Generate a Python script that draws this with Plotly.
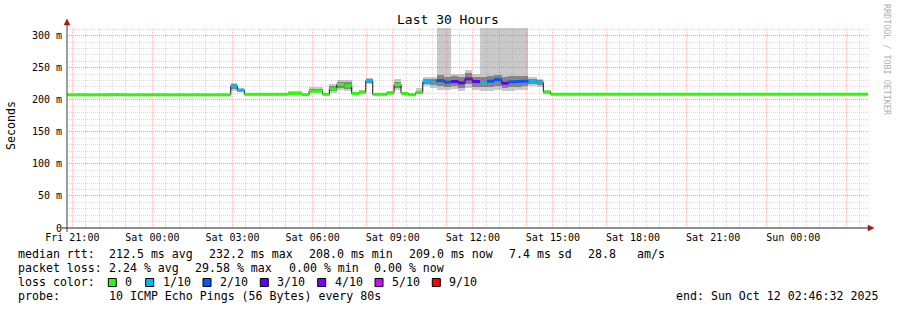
import plotly.graph_objects as go

# ---------------- data (time in hours relative to Fri 21:00) ----------------
window_start = -0.2
window_end = 29.8
seg_start = [-0.200, 1.412, 1.899, 5.933, 6.180, 6.442, 6.993, 8.079, 8.603, 8.865,
             9.378, 9.625, 9.903, 10.187, 10.464, 10.738, 10.989, 11.251, 11.775, 12.049,
             12.311, 12.584, 12.861, 13.124, 13.397, 13.648, 13.933, 14.184, 14.457, 14.708,
             14.981, 15.270, 15.543, 15.794, 16.082, 16.330, 16.581, 16.831, 17.079, 17.393,
             17.640, 17.918]

median_ms = [208.0, 208.0, 208.0, 221.6, 215.0, 208.5, 208.5, 210.0, 208.0, 213.5,
             208.5, 217.0, 224.0, 221.7, 210.0, 212.0, 229.5, 208.5, 210.8, 224.0,
             210.0, 208.0, 211.3, 228.5, 227.0, 230.0, 227.4, 228.5, 226.4, 232.6,
             228.5, 227.0, 229.0, 231.5, 225.8, 228.0, 228.5, 229.0, 229.0, 227.4,
             212.0, 208.5]
loss = [0, 0, 0, 1, 1, 0, 0, 0, 0, 0,
        0, 0, 0, 0, 0, 0, 1, 0, 0, 0,
        0, 0, 0, 1, 1, 2, 2, 3, 3, 4,
        3, 1, 2, 2, 3, 2, 2, 2, 1, 1,
        0, 0]
smoke_min = [208, 207.5, 208, 214, 212, 208, 207.5, 208, 207.5, 210,
             208, 211, 215, 213, 208, 209, 224, 208, 208, 215,
             208, 207.5, 209, 222, 219, 215, 215, 217, 213, 219,
             215, 214, 214, 215, 213, 214, 215, 216, 221, 220,
             209, 208]
smoke_max = [208, 211, 208, 226, 218, 209, 211, 213, 209, 220,
             209, 225, 231, 231, 212, 216, 234, 209, 213, 232,
             212, 209, 218, 235, 236, 330, 330, 241, 241, 247,
             240, 330, 330, 330, 330, 330, 330, 330, 235, 233,
             215, 209]
core_lo = [208, 208, 208, 217.5, 213, 208, 208, 209, 208, 211.5,
           208, 214, 219, 217, 208.5, 210, 226, 208, 209, 219,
           209, 208, 210, 225, 223, 221, 220, 221, 218, 224,
           220, 220, 220, 221, 219, 220, 220, 221, 224, 223,
           210, 208]
core_hi = [208, 208, 208, 224, 216, 208, 209.5, 211, 208, 217,
           209, 221, 228, 227, 211, 214, 232, 209, 212, 228,
           211, 208.5, 214, 232, 232, 238, 236, 237, 236, 242,
           236, 236, 237, 238, 236, 237, 237, 237, 233, 231,
           214, 209]

loss_keys = [0, 1, 2, 3, 4, 5, 9]
loss_labels = ["0", "1/10", "2/10", "3/10", "4/10", "5/10", "9/10"]
loss_colors = ["#26ff00", "#00b8ff", "#0059ff", "#5e00ff", "#7e00ff", "#dd00ff", "#ff0000"]

tick_hours = [0, 3, 6, 9, 12, 15, 18, 21, 24, 27]
tick_labels = ["Fri 21:00", "Sat 00:00", "Sat 03:00", "Sat 06:00", "Sat 09:00",
               "Sat 12:00", "Sat 15:00", "Sat 18:00", "Sat 21:00", "Sun 00:00"]
y_ticks = [0, 50, 100, 150, 200, 250, 300]
y_labels = ["0", "50 m", "100 m", "150 m", "200 m", "250 m", "300 m"]

# ---------------- geometry ----------------
W, H = 897, 310
L, R, T, B = 67, 868, 28, 228
Y_MAX = 312

def px(xp):
    return (xp - L) / (R - L)

def py(yp):
    return (B - yp) / (B - T)

seg_end = seg_start[1:] + [window_end]
centers = [(a + b) / 2 for a, b in zip(seg_start, seg_end)]
widths = [b - a for a, b in zip(seg_start, seg_end)]

fig = go.Figure()
fig.add_trace(go.Bar(x=centers, width=widths, base=smoke_min,
                     y=[h - l for l, h in zip(smoke_min, smoke_max)],
                     marker=dict(color="rgba(120,120,120,0.40)", line=dict(width=0)),
                     hoverinfo="skip"))
fig.add_trace(go.Bar(x=centers, width=widths, base=core_lo,
                     y=[h - l for l, h in zip(core_lo, core_hi)],
                     marker=dict(color="rgba(50,50,50,0.45)", line=dict(width=0)),
                     hoverinfo="skip"))
fig.add_trace(go.Scatter(x=seg_start + [window_end], y=median_ms + [median_ms[-1]],
                         mode="lines", line=dict(shape="hv", color="#111111", width=1),
                         hoverinfo="skip"))
# coloured median segments, one trace per loss class
for key, col in zip(loss_keys, loss_colors):
    xs, ys = [], []
    for a, b, m, k in zip(seg_start, seg_end, median_ms, loss):
        if k == key:
            xs += [a, b, None]
            ys += [m, m, None]
    if xs:
        fig.add_trace(go.Scatter(x=xs, y=ys, mode="lines",
                                 line=dict(color=col, width=3), hoverinfo="skip"))

all_hours = list(range(0, 30))
xt_text = [tick_labels[tick_hours.index(h)] if h in tick_hours else "" for h in all_hours]

MONO = "DejaVu Sans Mono"
RED_GRID = "rgba(255,0,0,0.24)"
GRAY_GRID = "rgba(130,130,130,0.28)"

fig.update_layout(
    width=W, height=H, margin=dict(l=L, r=W - R, t=T, b=H - B),
    paper_bgcolor="white", plot_bgcolor="white", showlegend=False,
    barmode="overlay", bargap=0,
    font=dict(family=MONO, size=10, color="black"),
    xaxis=dict(range=[window_start, window_end], tickmode="array", tickvals=all_hours,
               ticktext=xt_text, showgrid=True, gridcolor=RED_GRID, griddash="1px,1px",
               gridwidth=1, zeroline=False, showline=False, ticks="",
               ticklabelstandoff=2, tickfont=dict(family=MONO, size=10),
               minor=dict(tickmode="linear", tick0=0.5, dtick=1, showgrid=True,
                          gridcolor=GRAY_GRID, griddash="1px,1px", gridwidth=1)),
    yaxis=dict(range=[0, Y_MAX], tickmode="array", tickvals=y_ticks, ticktext=y_labels,
               showgrid=True, gridcolor=RED_GRID, griddash="1px,1px", gridwidth=1,
               zeroline=False, showline=False, ticks="", ticklabelstandoff=4,
               tickfont=dict(family=MONO, size=10),
               minor=dict(tickmode="linear", tick0=0, dtick=10, showgrid=True,
                          gridcolor=GRAY_GRID, griddash="1px,1px", gridwidth=1)),
)

shapes = []
# axes
shapes.append(dict(type="line", xref="paper", yref="paper", x0=px(67), x1=px(67),
                   y0=py(232), y1=py(22), line=dict(color="#404040", width=1)))
shapes.append(dict(type="line", xref="paper", yref="paper", x0=px(62), x1=px(870),
                   y0=py(228), y1=py(228), line=dict(color="#202020", width=1)))
# arrow heads
shapes.append(dict(type="path", xref="paper", yref="paper",
                   path=f"M {px(64)},{py(25)} L {px(70)},{py(25)} L {px(67)},{py(19)} Z",
                   fillcolor="#a01818", line=dict(color="#a01818", width=0.5)))
shapes.append(dict(type="path", xref="paper", yref="paper",
                   path=f"M {px(868)},{py(225)} L {px(868)},{py(231)} L {px(874)},{py(228)} Z",
                   fillcolor="#a01818", line=dict(color="#a01818", width=0.5)))

ann = []
ann.append(dict(text="Last 30 Hours", x=px(448), y=py(20), xref="paper", yref="paper",
                showarrow=False, xanchor="center", yanchor="middle",
                font=dict(family=MONO, size=13, color="black")))
ann.append(dict(text="Seconds", x=px(11), y=py(126), xref="paper", yref="paper",
                showarrow=False, xanchor="center", yanchor="middle", textangle=-90,
                font=dict(family=MONO, size=11.6, color="black")))
ann.append(dict(text="RRDTOOL / TOBI OETIKER", x=px(887), y=py(60), xref="paper", yref="paper",
                showarrow=False, xanchor="center", yanchor="middle", textangle=90,
                font=dict(family=MONO, size=8.4, color="#b0b0b0")))

LEG = 11.6
def txt(s, xp, yp, anchor="left"):
    ann.append(dict(text=s, x=px(xp), y=py(yp), xref="paper", yref="paper",
                    showarrow=False, xanchor=anchor, yanchor="middle",
                    font=dict(family=MONO, size=LEG, color="black")))

row1 = [("median rtt:", 16), ("212.5 ms avg", 107.3), ("232.2 ms max", 207.3),
        ("208.0 ms min", 307.3), ("209.0 ms now", 406.7), ("7.4 ms sd", 507.3),
        ("28.8", 586), ("am/s", 635)]
row2 = [("packet loss:", 16), ("2.24 % avg", 107.3), ("29.58 % max", 193.3),
        ("0.00 % min", 286.7), ("0.00 % now", 372.3)]
for s, x in row1:
    txt(s, x, 254)
for s, x in row2:
    txt(s, x, 268)
txt("loss color:", 16, 282)
box_x = [108.3, 145.7, 203.0, 260.3, 317.7, 375.0, 432.3]
for bx, lab, col in zip(box_x, loss_labels, loss_colors):
    shapes.append(dict(type="rect", xref="paper", yref="paper",
                       x0=px(bx), x1=px(bx + 8), y0=py(286.5), y1=py(278.5),
                       fillcolor=col, line=dict(color="#000000", width=1)))
    txt(lab, bx + 15, 282)
txt("probe:", 16, 296)
txt("10 ICMP Echo Pings (56 Bytes) every 80s", 107.3, 296)
txt("end: Sun Oct 12 02:46:32 2025", 880, 296, anchor="right")

fig.update_layout(shapes=shapes, annotations=ann)
fig.write_html("out.html")
